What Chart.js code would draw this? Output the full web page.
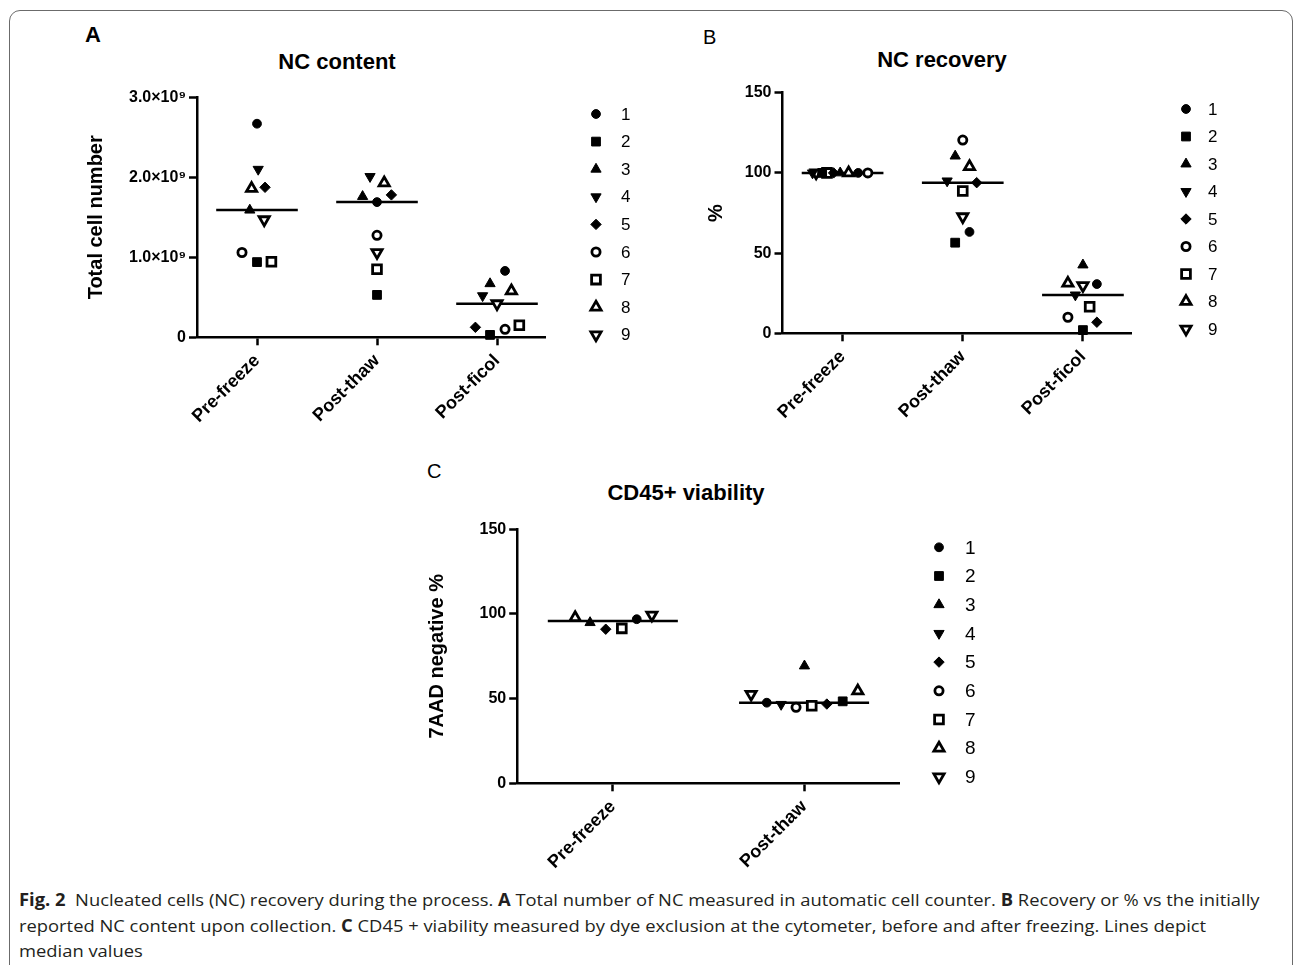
<!DOCTYPE html>
<html>
<head>
<meta charset="utf-8">
<title>Fig. 2 NC recovery</title>
<script src="https://cdn.jsdelivr.net/npm/chart.js@4.4.0/dist/chart.umd.min.js"></script>
<style>
  html, body { margin: 0; padding: 0; background: #fff; }
  body { width: 1295px; height: 965px; position: relative; overflow: hidden; font-family: "Liberation Sans", Arial, sans-serif; color: #000; }
  .frame { position: absolute; left: 9px; top: 10px; width: 1284px; height: 1000px; border: 1.5px solid #6b6b6b; border-radius: 11px; box-sizing: border-box; }
  canvas { position: absolute; }
  .letter { position: absolute; font-size: 20px; line-height: 1; }
  .title { position: absolute; font-size: 22px; font-weight: bold; line-height: 1; white-space: nowrap; transform: translateX(-50%); }
  .caption { position: absolute; left: 19px; top: 887px; font-family: "Open Sans", "Noto Sans", sans-serif; font-size: 17px; line-height: 25.6px; color: #231f20; }
  .caption div { white-space: nowrap; transform-origin: 0 50%; }
</style>
</head>
<body>
<div class="frame"></div>

<div class="letter" style="left:85px; top:24px; font-size:22px; font-weight:bold;">A</div>
<div class="letter" style="left:703px; top:27px;">B</div>
<div class="letter" style="left:427px; top:461px;">C</div>

<div class="title" style="left:337px; top:51px;">NC content</div>
<div class="title" style="left:942px; top:49px;">NC recovery</div>
<div class="title" style="left:686px; top:482px;">CD45+ viability</div>

<canvas id="chartA" width="640" height="418" style="left:20px; top:20px;"></canvas>
<canvas id="chartB" width="580" height="414" style="left:680px; top:20px;"></canvas>
<canvas id="chartC" width="600" height="434" style="left:400px; top:450px;"></canvas>

<div class="caption">
  <div><b>Fig. 2</b>&nbsp; Nucleated cells (NC) recovery during the process. <b>A</b> Total number of NC measured in automatic cell counter. <b>B</b> Recovery or % vs the initially</div>
  <div>reported NC content upon collection. <b>C</b> CD45 + viability measured by dye exclusion at the cytometer, before and after freezing. Lines depict</div>
  <div>median values</div>
</div>

<script>
// donneurs 1 a 9
const donors = ["1", "2", "3", "4", "5", "6", "7", "8", "9"];
const stepsAB = ["Pre-freeze", "Post-thaw", "Post-ficol"];
const stepsC = ["Pre-freeze", "Post-thaw"];

// A : nombre total de NC (x10^9)
const ncPre = [2.67, 0.94, 1.59, 2.10, 1.875, 1.06, 0.945, 1.86, 1.47];
const ncThaw = [1.69, 0.53, 1.76, 2.01, 1.78, 1.275, 0.85, 1.93, 1.06];
const ncFicol = [0.83, 0.03, 0.67, 0.52, 0.125, 0.10, 0.15, 0.58, 0.42];

// B : recuperation (%)
const recPre = [100, 100, 100, 100, 100, 100, 100, 100, 100];
const recThaw = [63.2, 56.5, 110.5, 95, 93.9, 120.5, 88.7, 103.9, 72.7];
const recFicol = [30.7, 2, 42.6, 23.9, 6.9, 10, 16.6, 31.2, 29.7];

// C : viabilite CD45+ (% 7AAD negatif), donneurs 2, 4, 6 absents avant congelation
const viaPre = [96.9, null, 94.9, null, 91, null, 91.5, 97.8, 99.4];
const viaThaw = [47.6, 48.4, 69.3, 46.6, 46.8, 44.9, 45.8, 54.5, 52.6];

// decalage horizontal des points (fraction de categorie)
const ncSpread = [
  [0, 0, -0.06, 0.01, 0.067, -0.125, 0.12, -0.045, 0.06],
  [0, 0, -0.12, -0.058, 0.12, 0, 0, 0.06, 0],
  [0.067, -0.058, -0.058, -0.12, -0.18, 0.067, 0.186, 0.12, 0],
];
const recSpread = [
  [0.13, -0.17, -0.02, -0.25, -0.075, 0.21, -0.13, 0.05, -0.22],
  [0.056, -0.063, -0.063, -0.13, 0.116, 0, 0, 0.056, 0],
  [0.116, 0, 0, -0.063, 0.116, -0.125, 0.056, -0.125, 0],
];
const viaSpread = [
  [0.125, 0, -0.119, 0, -0.037, 0, 0.047, -0.197, 0.204],
  [-0.195, 0.202, 0.002, -0.12, 0.119, -0.042, 0.04, 0.281, -0.277],
];

const ticksNC = [0, 1, 2, 3];
const ticksPct = [0, 50, 100, 150];

// symboles GraphPad
const markers = [
  { style: "circle", rot: 0, filled: true, r: 4.4 },
  { style: "rect", rot: 0, filled: true, r: 6.2 },
  { style: "triangle", rot: 0, filled: true, r: 5.9 },
  { style: "triangle", rot: 180, filled: true, r: 5.9 },
  { style: "rectRot", rot: 0, filled: true, r: 5.2 },
  { style: "circle", rot: 0, filled: false, r: 4.1 },
  { style: "rect", rot: 0, filled: false, r: 6.2 },
  { style: "triangle", rot: 0, filled: false, r: 5.9 },
  { style: "triangle", rot: 180, filled: false, r: 5.9 },
];

Chart.defaults.font.family = '"Liberation Sans", Arial, sans-serif';
Chart.defaults.color = "#000";

function median(values) {
  const v = values.filter((x) => x !== null).sort((a, b) => a - b);
  const m = Math.floor(v.length / 2);
  return v.length % 2 ? v[m] : (v[m - 1] + v[m]) / 2;
}

function buildDatasets(groups, spread) {
  const sets = donors.map((d, i) => {
    const m = markers[i];
    return {
      type: "scatter",
      label: d,
      data: groups
        .map((vals, g) => (vals[i] === null ? null : { x: g + 1 + spread[g][i], y: vals[i] }))
        .filter((p) => p !== null),
      pointStyle: m.style,
      pointRotation: m.rot,
      pointRadius: m.r,
      pointBorderWidth: m.filled ? 1 : 2.8,
      pointBackgroundColor: m.filled ? "#000" : "#fff",
      pointBorderColor: "#000",
      clip: false,
    };
  });
  // lignes des medianes
  groups.forEach((vals, g) => {
    const med = median(vals);
    sets.push({
      type: "line",
      isMedian: true,
      label: "median",
      data: [{ x: g + 1 - 0.34, y: med }, { x: g + 1 + 0.34, y: med }],
      borderColor: "#000",
      borderWidth: 2.5,
      pointRadius: 0,
      clip: false,
    });
  });
  return sets;
}

// legende dessinee a la main (symbole + numero du donneur)
const dotLegend = {
  id: "dotLegend",
  afterDraw(chart, args, opts) {
    const ctx = chart.ctx;
    ctx.save();
    ctx.font = opts.fontSize + 'px "Liberation Sans", Arial, sans-serif';
    ctx.textBaseline = "middle";
    ctx.textAlign = "left";
    chart.data.datasets.forEach((ds, i) => {
      if (ds.isMedian) return;
      const y = opts.y + i * opts.step;
      ctx.fillStyle = ds.pointBackgroundColor;
      ctx.strokeStyle = "#000";
      ctx.lineWidth = ds.pointBorderWidth;
      Chart.helpers.drawPoint(ctx, {
        pointStyle: ds.pointStyle,
        rotation: ds.pointRotation,
        radius: ds.pointRadius,
        borderWidth: ds.pointBorderWidth,
      }, opts.x, y);
      ctx.fillStyle = "#000";
      ctx.fillText(ds.label, opts.textX, y + 1);
    });
    ctx.restore();
  },
};

function makeChart(id, cfg) {
  const axisLine = { display: true, color: "#000", width: 2.5 };
  const tickMarks = { display: true, drawOnChartArea: false, drawTicks: true, tickLength: 8, tickWidth: 2.5, tickColor: "#000" };

  return new Chart(document.getElementById(id), {
    type: "scatter",
    data: { datasets: buildDatasets(cfg.groups, cfg.spread) },
    options: {
      responsive: false,
      animation: false,
      events: [],
      layout: { padding: cfg.padding },
      plugins: {
        legend: { display: false },
        tooltip: { enabled: false },
        dotLegend: cfg.legend,
      },
      scales: {
        x: {
          type: "linear",
          min: 0.5,
          max: cfg.xMax,
          afterBuildTicks: (s) => { s.ticks = cfg.steps.map((n, i) => ({ value: i + 1 })); },
          afterFit: (s) => { s.height = 100; },
          ticks: {
            autoSkip: false,
            minRotation: 45,
            maxRotation: 45,
            padding: 5,
            font: { size: 18, weight: "bold" },
            callback: (v) => cfg.steps[v - 1],
          },
          grid: tickMarks,
          border: axisLine,
        },
        y: {
          min: cfg.yTicks[0],
          max: cfg.yTicks[cfg.yTicks.length - 1],
          afterBuildTicks: (s) => { s.ticks = cfg.yTicks.map((v) => ({ value: v })); },
          afterFit: (s) => { s.width = cfg.yWidth; },
          ticks: { padding: 3, font: { size: 16, weight: "bold" }, callback: cfg.yLabel },
          grid: tickMarks,
          border: axisLine,
          title: {
            display: true,
            text: cfg.yTitle,
            font: { size: 20, weight: "bold" },
            padding: { top: 4, bottom: 4 },
          },
        },
      },
    },
    plugins: [dotLegend],
  });
}

document.fonts.ready.then(() => {
  makeChart("chartA", {
    groups: [ncPre, ncThaw, ncFicol],
    spread: ncSpread,
    steps: stepsAB,
    xMax: 3.4,
    yTicks: ticksNC,
    yLabel: (v) => (v === 0 ? "0" : v.toFixed(1) + "×10⁹"),
    yTitle: "Total cell number",
    yWidth: 117,
    padding: { left: 60, top: 77.3, right: 115, bottom: 0.7 },
    legend: { x: 576, y: 94, step: 27.6, textX: 601, fontSize: 17 },
  });

  makeChart("chartB", {
    groups: [recPre, recThaw, recFicol],
    spread: recSpread,
    steps: stepsAB,
    xMax: 3.4,
    yTicks: ticksPct,
    yLabel: (v) => String(v),
    yTitle: "%",
    yWidth: 82,
    padding: { left: 20.5, top: 72.7, right: 129, bottom: 0.7 },
    legend: { x: 506, y: 89, step: 27.5, textX: 528, fontSize: 17 },
  });

  makeChart("chartC", {
    groups: [viaPre, viaThaw],
    spread: viaSpread,
    steps: stepsC,
    xMax: 2.5,
    yTicks: ticksPct,
    yLabel: (v) => String(v),
    yTitle: "7AAD negative %",
    yWidth: 96.2,
    padding: { left: 21, top: 79.3, right: 100.3, bottom: 0.7 },
    legend: { x: 539, y: 97.3, step: 28.7, textX: 565, fontSize: 19 },
  });

  // ajuster la legende de la figure a la largeur d'origine
  const lines = document.querySelectorAll(".caption div");
  const w = lines[0].scrollWidth;
  const k = 1241 / w;
  lines.forEach((l) => { l.style.transform = "scaleX(" + k + ")"; });
});
</script>
</body>
</html>
